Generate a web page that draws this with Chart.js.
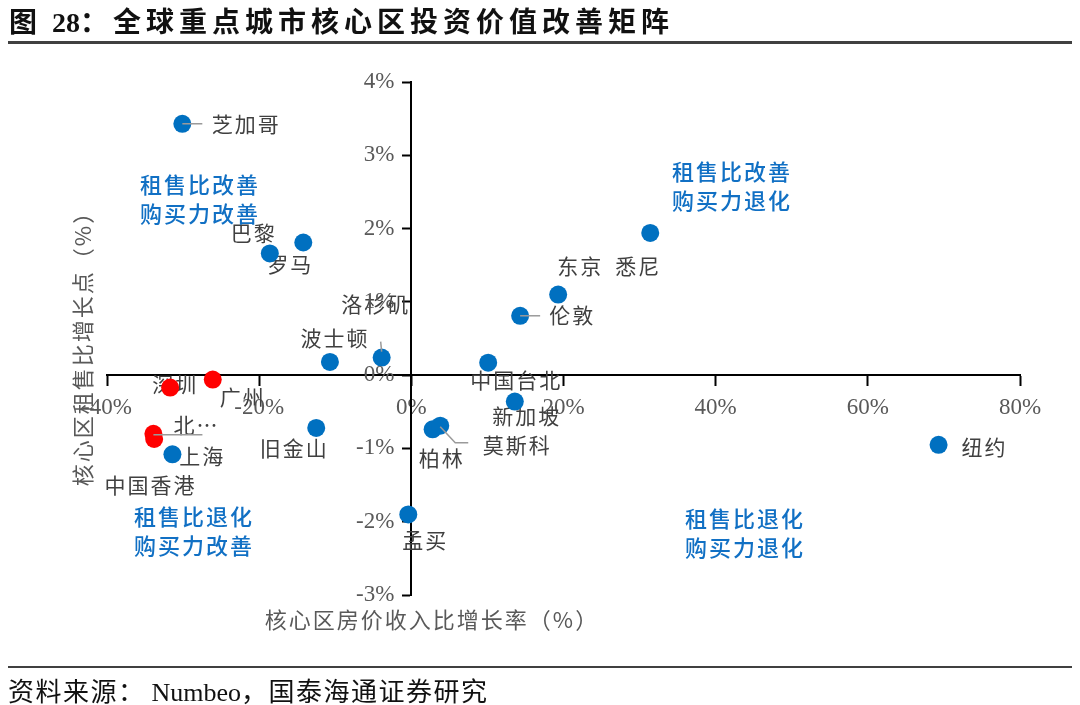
<!DOCTYPE html>
<html>
<head>
<meta charset="utf-8">
<script src="https://cdn.jsdelivr.net/npm/chart.js@4.4.0/dist/chart.umd.min.js"></script>
<style>
  body { margin: 0; background: #fff; }
  #wrap { position: relative; width: 1080px; height: 705px; overflow: hidden; }
  .title { position: absolute; left: 9px; top: 0; line-height: 40px; font: bold 28px "Noto Sans CJK SC"; letter-spacing: 5px; color: #111; white-space: nowrap; }
  .title .num { font-family: "Liberation Serif"; letter-spacing: 0; margin-left: 10px; }
  .rule { position: absolute; left: 8px; right: 8px; background: #404040; }
  .source { position: absolute; left: 8px; top: 671px; line-height: 34px; font: 26px "Noto Sans CJK SC"; letter-spacing: 1.5px; color: #111; white-space: nowrap; }
  .source .latin { font-family: "Liberation Serif"; letter-spacing: 0; margin-left: 6px; }
</style>
</head>
<body>
<div id="wrap">
  <canvas id="matrix"></canvas>
  <div class="title">图<span class="num">28</span>：全球重点城市核心区投资价值改善矩阵</div>
  <div class="rule" style="top:41px;height:3px"></div>
  <div class="rule" style="top:666px;height:2px"></div>
  <div class="source">资料来源：<span class="latin">Numbeo</span>，国泰海通证券研究</div>
</div>

<script>
// data (percent)
var cities = ['芝加哥', '巴黎', '罗马', '波士顿', '洛杉矶', '深圳', '广州', '北京', '上海', '中国香港',
              '旧金山', '孟买', '柏林', '莫斯科', '新加坡', '中国台北', '伦敦', '东京', '悉尼', '纽约'];
var priceIncomeGrowth = [-30.1, -18.6, -14.2, -10.7, -3.9, -31.7, -26.1, -33.9, -33.8, -31.4,
                         -12.5, -0.4, 2.8, 3.8, 13.6, 10.1, 14.3, 19.3, 31.4, 69.3];
var rentRatioGrowth = [3.43, 1.66, 1.81, 0.18, 0.24, -0.17, -0.06, -0.80, -0.87, -1.08,
                       -0.72, -1.90, -0.74, -0.69, -0.36, 0.17, 0.81, 1.10, 1.94, -0.95];
var mainlandCities = ['北京', '上海', '深圳', '广州'];
var xTicks = [-40, -20, 0, 20, 40, 60, 80];
var yTicks = [-3, -2, -1, 0, 1, 2, 3, 4];

// label placement relative to each point (pixels)
var labelLayout = {
  '芝加哥': {dx: 64, dy: 0, line: [[0, 0], [20, 0]]},
  '巴黎': {dx: -16, dy: -20},
  '罗马': {dx: -13, dy: 22},
  '波士顿': {dx: 5, dy: -24},
  '洛杉矶': {dx: -6, dy: -54, line: [[-1, -16], [0, -6]]},
  '深圳': {dx: 5, dy: -4},
  '广州': {dx: 30, dy: 17},
  '北京': {dx: 43, dy: -9, text: '北…', line: [[0, 1], [49, 1]]},
  '上海': {dx: 48, dy: 17},
  '中国香港': {dx: -22, dy: 31},
  '旧金山': {dx: -22, dy: 20},
  '孟买': {dx: 17, dy: 26},
  '柏林': {dx: 9, dy: 29},
  '莫斯科': {dx: 77, dy: 19, line: [[0, 1], [15, 17], [28, 17]]},
  '新加坡': {dx: 12, dy: 14},
  '中国台北': {dx: 28, dy: 17},
  '伦敦': {dx: 52, dy: -1, line: [[0, 0], [20, 0]]},
  '东京': {dx: 22, dy: -29},
  '悉尼': {dx: -12, dy: 33},
  '纽约': {dx: 46, dy: 2}
};

var quadrantNotes = [
  {x: 200, y: 185, lines: ['租售比改善', '购买力改善']},
  {x: 732, y: 172, lines: ['租售比改善', '购买力退化']},
  {x: 194, y: 517, lines: ['租售比退化', '购买力改善']},
  {x: 745, y: 519, lines: ['租售比退化', '购买力退化']}
];

var bluePts = [], redPts = [];
for (var i = 0; i < cities.length; i++) {
  var pt = {x: priceIncomeGrowth[i], y: rentRatioGrowth[i], name: cities[i]};
  if (mainlandCities.indexOf(cities[i]) >= 0) redPts.push(pt); else bluePts.push(pt);
}

var labelsPlugin = {
  id: 'cityLabels',
  beforeDatasetsDraw: function(chart) {
    var ctx = chart.ctx, xs = chart.scales.x, ys = chart.scales.y;
    ctx.save();
    // city names
    ctx.font = '21px "Noto Sans CJK SC"';
    ctx.letterSpacing = '2px';
    ctx.fillStyle = '#404040';
    ctx.textAlign = 'center';
    ctx.textBaseline = 'middle';
    for (var i = 0; i < cities.length; i++) {
      var L = labelLayout[cities[i]];
      var px = xs.getPixelForValue(priceIncomeGrowth[i]);
      var py = ys.getPixelForValue(rentRatioGrowth[i]);
      ctx.fillText(L.text || cities[i], px + L.dx, py + L.dy);
    }
    // quadrant notes
    ctx.font = '500 22px "Noto Sans CJK SC"';
    ctx.fillStyle = '#1170C4';
    quadrantNotes.forEach(function(q) {
      q.lines.forEach(function(s, k) { ctx.fillText(s, q.x, q.y + k * 29); });
    });
    // axis titles
    ctx.font = '22px "Noto Sans CJK SC"';
    ctx.letterSpacing = '2px';
    ctx.fillStyle = '#595959';
    ctx.fillText('核心区房价收入比增长率（%）', 432, 620);
    ctx.translate(83, 343);
    ctx.rotate(-Math.PI / 2);
    ctx.fillText('核心区租售比增长点（%）', 0, 0);
    ctx.restore();
  },
  afterDatasetsDraw: function(chart) {
    var ctx = chart.ctx, xs = chart.scales.x, ys = chart.scales.y;
    ctx.save();
    ctx.strokeStyle = '#9a9a9a';
    ctx.lineWidth = 1.5;
    for (var i = 0; i < cities.length; i++) {
      var L = labelLayout[cities[i]];
      if (!L.line) continue;
      var px = xs.getPixelForValue(priceIncomeGrowth[i]);
      var py = ys.getPixelForValue(rentRatioGrowth[i]);
      ctx.beginPath();
      L.line.forEach(function(p, k) {
        if (k === 0) ctx.moveTo(px + p[0], py + p[1]); else ctx.lineTo(px + p[0], py + p[1]);
      });
      ctx.stroke();
    }
    ctx.restore();
  },
  afterDraw: function(chart) {
    // y tick labels, left of the centred axis
    var ctx = chart.ctx, xs = chart.scales.x, ys = chart.scales.y;
    var x0 = xs.getPixelForValue(0);
    ctx.save();
    ctx.font = '23px "Liberation Serif"';
    ctx.fillStyle = '#595959';
    ctx.textAlign = 'right';
    ctx.textBaseline = 'middle';
    yTicks.forEach(function(v) { ctx.fillText(v + '%', x0 - 17, ys.getPixelForValue(v)); });
    ctx.restore();
  }
};

new Chart(document.getElementById('matrix'), {
  type: 'scatter',
  data: {
    datasets: [
      {label: 'others', data: bluePts, backgroundColor: '#0070C0', borderWidth: 0, pointRadius: 9, pointHoverRadius: 9},
      {label: 'mainland', data: redPts, backgroundColor: '#FF0000', borderWidth: 0, pointRadius: 9, pointHoverRadius: 9}
    ]
  },
  options: {
    responsive: true,
    maintainAspectRatio: false,
    animation: false,
    events: [],
    layout: {padding: {left: 107, right: 60, top: 82, bottom: 110}},
    plugins: {legend: {display: false}, tooltip: {enabled: false}},
    scales: {
      x: {
        type: 'linear', min: -40, max: 80, position: {y: 0},
        afterBuildTicks: function(s) { s.ticks = xTicks.map(function(v) { return {value: v}; }); },
        ticks: {
          callback: function(v) { return v + '%'; },
          font: {family: 'Liberation Serif', size: 23},
          color: '#595959', padding: 9, maxRotation: 0, autoSkip: false
        },
        grid: {drawOnChartArea: false, drawTicks: true, tickLength: 10, tickColor: '#000', tickWidth: 2},
        border: {color: '#000', width: 2}
      },
      y: {
        type: 'linear', min: -3, max: 4, position: {x: 0},
        afterBuildTicks: function(s) { s.ticks = yTicks.map(function(v) { return {value: v}; }); },
        ticks: {display: false},
        grid: {drawOnChartArea: false, drawTicks: true, tickLength: 8, tickColor: '#000', tickWidth: 2},
        border: {color: '#000', width: 2}
      }
    }
  },
  plugins: [labelsPlugin]
});
</script>
</body>
</html>
